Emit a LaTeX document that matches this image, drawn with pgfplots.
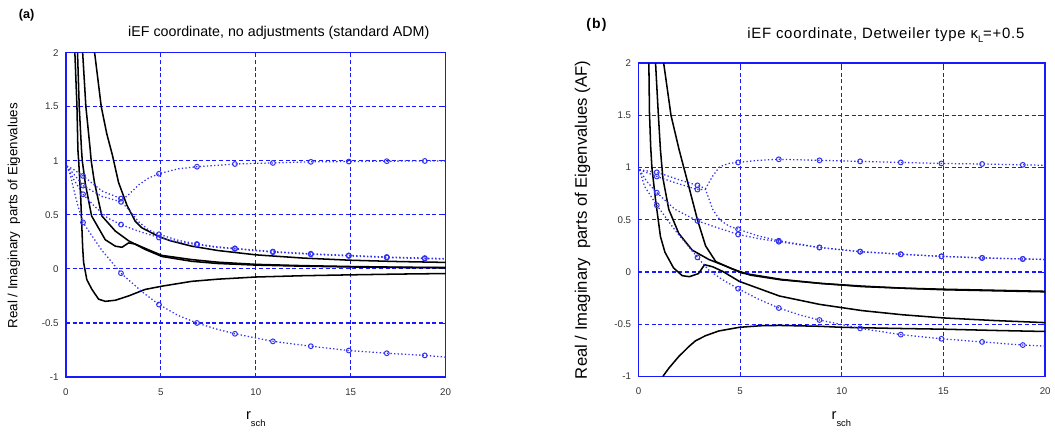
\documentclass[border=0pt]{standalone}
\usepackage{fontspec}
\setmainfont{Liberation Sans}
\usepackage{pgfplots}
\pgfplotsset{compat=1.18}
\definecolor{gridblue}{RGB}{25,25,255}
\definecolor{curveblue}{RGB}{50,50,240}
\definecolor{ticklab}{RGB}{50,50,50}
\pgfplotsset{
 eig/.style={
  scale only axis, anchor=south west,
  xmin=0,xmax=20,ymin=-1,ymax=2,
  xtick={0,5,10,15,20}, ytick={-1,-0.5,0,0.5,1,1.5,2},
  grid=major, major grid style={gridblue, dash pattern=on 3pt off 2pt, line width=0.85pt},
  axis line style={gridblue, line width=1.2pt},
  tick style={gridblue, line width=0.6pt}, tick align=inside, major tick length=3pt,
  ticklabel style={font=\fontsize{7.3}{8}\selectfont, text=ticklab},
  yticklabel style={xshift=-2pt},
  xticklabel style={yshift=-5pt},
  /pgf/number format/assume math mode=true,
  clip=true,
 },
 blk/.style={black, line width=1.15pt, no marks},
 blu/.style={curveblue, line width=0.95pt, dash pattern=on 1pt off 1.7pt, mark=o, mark size=1.8pt, mark options={solid, line width=0.75pt}},
}
\begin{document}
\begin{tikzpicture}
\path (0,0) rectangle (791.25pt,321pt);
% ---------------- panel (a)
\begin{axis}[eig, at={(49.5pt,38pt)}, width=285pt, height=243.5pt]
% black
\addplot[blk] coordinates {(0.47,2)(0.58,1.5)(0.63,1.1)(0.67,1.0)(0.78,0.65)(0.88,0.2)(0.93,0.06)(1.1,-0.1)(1.37,-0.19)(1.72,-0.28)(2.07,-0.30)(2.6,-0.29)(3.3,-0.25)(4.17,-0.19)(5.05,-0.16)(6.63,-0.115)(8,-0.095)(10,-0.075)(12.5,-0.063)(15,-0.055)(17.5,-0.048)(20,-0.043)};
\addplot[blk] coordinates {(0.61,2)(0.70,1.5)(0.82,1.1)(0.86,1.0)(1.02,0.79)(1.35,0.49)(2.07,0.27)(2.6,0.21)(2.95,0.20)(3.3,0.24)(3.65,0.23)(4.17,0.19)(5.05,0.125)(6.63,0.086)(8,0.062)(10,0.042)(12.5,0.03)(15,0.022)(17.5,0.016)(20,0.013)};
\addplot[blk] coordinates {(0.88,2)(1.05,1.5)(1.28,1.1)(1.33,1.0)(1.5,0.8)(1.89,0.49)(2.6,0.35)(3.3,0.26)(4.17,0.18)(5.05,0.115)(6.63,0.07)(8,0.05)(10,0.035)(12.5,0.025)(15,0.018)(17.5,0.013)(20,0.01)};
\addplot[blk] coordinates {(1.51,2)(1.86,1.5)(2.15,1.25)(2.45,1.05)(2.77,0.8)(3.21,0.59)(3.65,0.44)(4.0,0.38)(4.88,0.30)(5.5,0.26)(6.63,0.21)(8,0.17)(10,0.13)(12.5,0.10)(15,0.08)(17.5,0.068)(20,0.06)};
% blue
\addplot[blu, mark indices={3,5,9,11,12,13,14,15,16,17}] coordinates {(0.05,0.95)(0.4,0.92)(0.9,0.86)(1.9,0.72)(2.9,0.65)(3.2,0.67)(3.85,0.78)(4.35,0.84)(4.9,0.88)(5.9,0.925)(6.9,0.945)(8.9,0.97)(10.9,0.98)(12.9,0.99)(14.9,0.993)(16.9,0.996)(18.9,0.998)(20,0.999)};
\addplot[blu, mark indices={3,5,9,11,13,14,15,16,17,18}] coordinates {(0.05,0.95)(0.4,0.88)(0.9,0.77)(1.9,0.67)(2.9,0.62)(3.3,0.55)(3.8,0.44)(4.35,0.36)(4.9,0.32)(5.9,0.265)(6.9,0.23)(7.9,0.205)(8.9,0.19)(10.9,0.16)(12.9,0.14)(14.9,0.125)(16.9,0.11)(18.9,0.1)(20,0.095)};
\addplot[blu, mark indices={3,6,8,10,12,13,14,15,16,17}] coordinates {(0.05,0.95)(0.4,0.83)(0.9,0.69)(1.5,0.58)(2.2,0.47)(2.9,0.41)(3.8,0.35)(4.9,0.29)(5.9,0.25)(6.9,0.225)(7.9,0.2)(8.9,0.185)(10.9,0.155)(12.9,0.135)(14.9,0.12)(16.9,0.105)(18.9,0.095)(20,0.09)};
\addplot[blu, mark indices={5,8,10,12,14,15,16,17,18,19}] coordinates {(0.05,0.95)(0.23,0.87)(0.4,0.74)(0.65,0.57)(0.9,0.43)(1.2,0.35)(1.9,0.17)(2.9,-0.04)(4.0,-0.21)(4.9,-0.33)(5.9,-0.43)(6.9,-0.5)(7.9,-0.555)(8.9,-0.6)(10.9,-0.67)(12.9,-0.715)(14.9,-0.755)(16.9,-0.78)(18.9,-0.80)(20,-0.815)};
\end{axis}
% ---------------- panel (b)
\begin{axis}[eig, at={(479.25pt,38.5pt)}, width=305.25pt, height=235pt]
\addplot[blk] coordinates {(0.51,2)(0.54,1.53)(0.6,1.2)(0.66,1.0)(0.84,0.69)(0.97,0.5)(1.08,0.34)(1.3,0.19)(1.72,0.04)(2.15,-0.035)(2.5,-0.045)(2.95,-0.015)(3.25,0.07)(3.65,0.05)(4.14,0.006)(4.96,-0.09)(6.93,-0.23)(8.9,-0.31)(11,-0.37)(13,-0.41)(15,-0.44)(17.5,-0.465)(20,-0.485)};
\addplot[blk] coordinates {(0.84,2)(0.97,1.53)(1.08,1.17)(1.2,0.9)(1.49,0.6)(1.98,0.37)(2.64,0.21)(3.46,0.12)(4.5,0.04)(5.1,-0.01)(7,-0.07)(9,-0.11)(11,-0.14)(13,-0.155)(15,-0.17)(17.5,-0.18)(20,-0.19)};
\addplot[blk] coordinates {(1.24,2)(1.6,1.5)(2.0,1.17)(2.5,0.8)(2.9,0.5)(3.3,0.25)(3.8,0.1)(4.6,0.03)(5.5,-0.03)(7,-0.075)(9,-0.11)(11,-0.135)(13,-0.155)(15,-0.165)(17.5,-0.175)(20,-0.185)};
\addplot[blk] coordinates {(1.2,-1.0)(1.5,-0.92)(1.98,-0.81)(2.5,-0.71)(2.8,-0.66)(3.3,-0.61)(3.95,-0.565)(4.96,-0.53)(6.0,-0.515)(6.93,-0.512)(8.9,-0.52)(10,-0.53)(12.5,-0.54)(15,-0.548)(17.5,-0.56)(20,-0.57)};
\addplot[blu, mark indices={2,4,9,11,12,13,14,15,16,17}] coordinates {(0.05,0.98)(0.9,0.955)(1.9,0.89)(2.9,0.83)(3.3,0.80)(3.65,0.92)(4.0,1.01)(4.45,1.04)(4.9,1.05)(5.9,1.07)(6.9,1.08)(8.9,1.07)(10.9,1.06)(12.9,1.05)(14.9,1.04)(16.9,1.035)(18.9,1.027)(20,1.022)};
\addplot[blu, mark indices={2,4,9,11,12,13,14,15,16,17}] coordinates {(0.05,0.98)(0.9,0.915)(1.9,0.85)(2.9,0.79)(3.3,0.79)(3.65,0.60)(4.0,0.50)(4.45,0.44)(4.9,0.41)(5.9,0.345)(6.9,0.30)(8.9,0.235)(10.9,0.195)(12.9,0.17)(14.9,0.15)(16.9,0.135)(18.9,0.125)(20,0.12)};
\addplot[blu, mark indices={3,5,7,9,10,11,12,13,14,15}] coordinates {(0.05,0.98)(0.4,0.87)(0.9,0.76)(1.8,0.60)(2.9,0.49)(3.95,0.42)(4.9,0.36)(5.9,0.32)(6.9,0.29)(8.9,0.235)(10.9,0.195)(12.9,0.17)(14.9,0.15)(16.9,0.135)(18.9,0.125)(20,0.12)};
\addplot[blu, mark indices={3,5,8,10,12,13,14,15,16,17}] coordinates {(0.05,0.98)(0.3,0.82)(0.9,0.64)(1.8,0.40)(2.9,0.14)(3.45,0.02)(4.1,-0.07)(4.9,-0.16)(5.9,-0.26)(6.9,-0.345)(7.9,-0.41)(8.9,-0.46)(10.9,-0.54)(12.9,-0.60)(14.9,-0.64)(16.9,-0.67)(18.9,-0.70)(20,-0.71)};
\end{axis}
% ---------------- text
\node[font=\fontsize{9.5}{11}\selectfont\bfseries] at (20pt,309.75pt) {(a)};
\node[font=\fontsize{10.5}{12}\selectfont\bfseries\addfontfeature{LetterSpace=8}] at (447.75pt,302.25pt) {(b)};
\node[font=\fontsize{10.7}{12}\selectfont] at (209.25pt,296.25pt) {iEF coordinate, no adjustments (standard ADM)};
\node[font=\fontsize{11.2}{13}\selectfont\addfontfeature{LetterSpace=5}] at (664.9pt,294.75pt) {iEF coordinate, Detweiler type κ\raisebox{-3.5pt}{\fontsize{7}{8}\selectfont L}=+0.5};
\node[font=\fontsize{10}{12}\selectfont, rotate=90] at (10.5pt,159pt) {Real / Imaginary\ \ parts of Eigenvalues};
\node[font=\fontsize{12.5}{14}\selectfont, rotate=90] at (437.25pt,156pt) {Real / Imaginary\ \ parts of Eigenvalues (AF)};
\node[font=\fontsize{11}{13}\selectfont] at (192pt,6.5pt) {r\raisebox{-5.5pt}{\fontsize{7}{8}\selectfont sch}};
\node[font=\fontsize{11}{13}\selectfont] at (631.5pt,6.5pt) {r\raisebox{-5.5pt}{\fontsize{7}{8}\selectfont sch}};
\end{tikzpicture}
\end{document}
